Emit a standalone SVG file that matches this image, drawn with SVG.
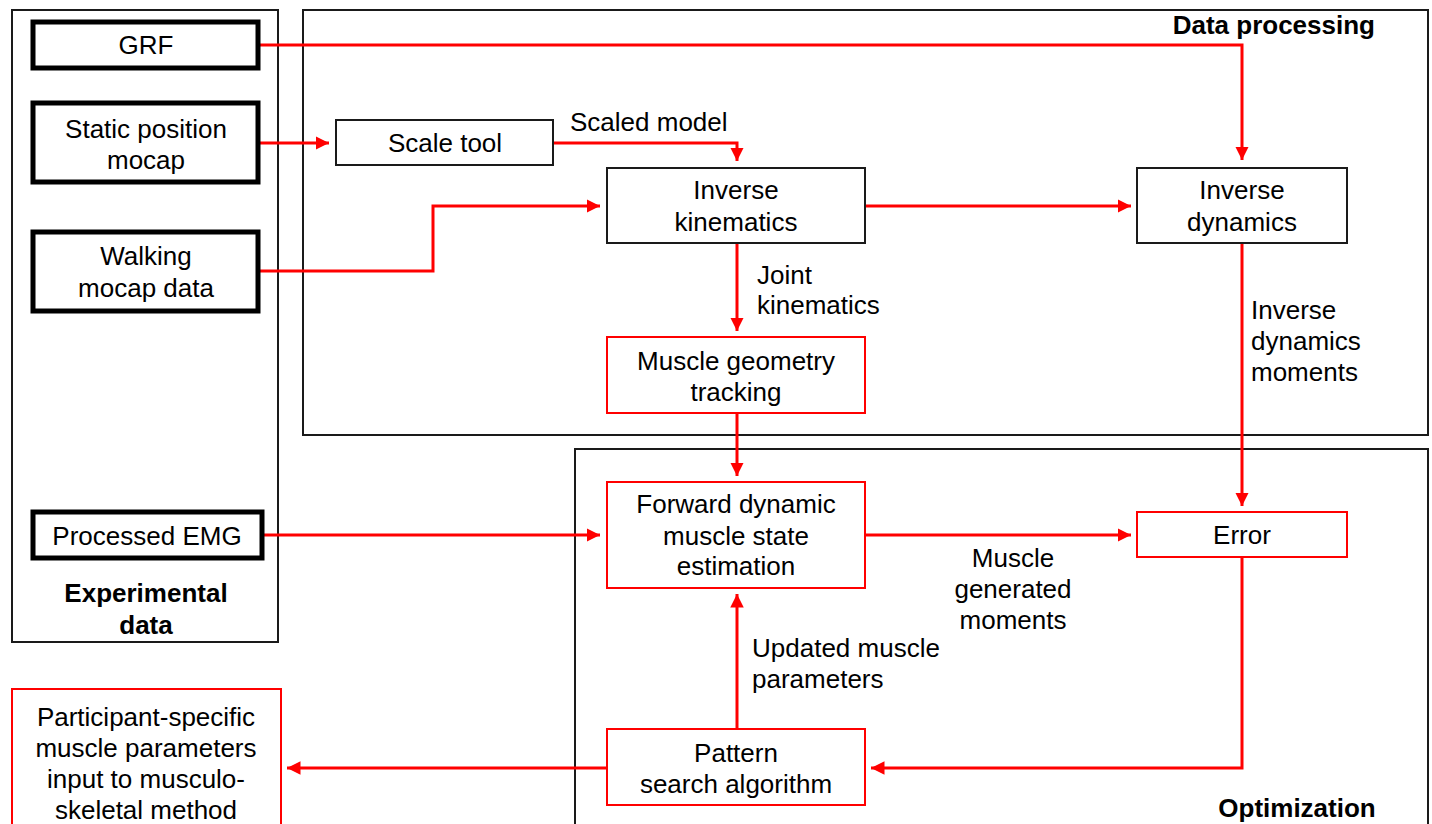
<svg xmlns="http://www.w3.org/2000/svg" width="1432" height="824" viewBox="0 0 1432 824">
<style>
text{font-family:"Liberation Sans",Arial,sans-serif;font-size:26px;fill:#000;text-anchor:middle}
.b{font-weight:bold}
.l{text-anchor:start}
.r{text-anchor:end}
.thin{fill:#fff;stroke:#1a1a1a;stroke-width:2}
.thick{fill:#fff;stroke:#000;stroke-width:5}
.red{fill:#fff;stroke:#f00;stroke-width:2}
.grp{fill:none;stroke:#1a1a1a;stroke-width:2}
.c{fill:none;stroke:#f00;stroke-width:3}
</style>
<defs>
<marker id="ah" viewBox="0 0 10 10" refX="10" refY="5" markerWidth="4.5" markerHeight="4.5" orient="auto" markerUnits="strokeWidth">
<path d="M0,0 L10,5 L0,10 Z" fill="#f00"/>
</marker>
</defs>
<rect width="1432" height="824" fill="#fff"/>
<g id="group-experimental">
<rect class="grp" x="12" y="10" width="266" height="632"/>
<text class="b" x="146" y="602">Experimental</text>
<text class="b" x="146" y="634">data</text>
</g>
<g id="group-processing">
<rect class="grp" x="303" y="10" width="1125" height="425"/>
<text class="b r" x="1375" y="34">Data processing</text>
</g>
<g id="group-optimization">
<rect class="grp" x="575" y="449" width="853" height="390"/>
<text class="b" x="1297" y="817">Optimization</text>
</g>
<g id="connectors">
<path class="c" d="M260,45 H1242 V160" marker-end="url(#ah)"/>
<path class="c" d="M260,143 H329" marker-end="url(#ah)"/>
<path class="c" d="M553,143 H737 V161" marker-end="url(#ah)"/>
<path class="c" d="M260,271 H433 V206 H600" marker-end="url(#ah)"/>
<path class="c" d="M865,206 H1131" marker-end="url(#ah)"/>
<path class="c" d="M737,243 V331" marker-end="url(#ah)"/>
<path class="c" d="M737,413 V476" marker-end="url(#ah)"/>
<path class="c" d="M262,535 H600" marker-end="url(#ah)"/>
<path class="c" d="M865,535 H1131" marker-end="url(#ah)"/>
<path class="c" d="M1242,243 V506" marker-end="url(#ah)"/>
<path class="c" d="M1242,557 V768 H871" marker-end="url(#ah)"/>
<path class="c" d="M737,729 V594" marker-end="url(#ah)"/>
<path class="c" d="M607,768 H287" marker-end="url(#ah)"/>
<text class="l" x="570" y="131">Scaled model</text>
<text class="l" x="757" y="284">Joint</text>
<text class="l" x="757" y="314">kinematics</text>
<text class="l" x="1251" y="319">Inverse</text>
<text class="l" x="1251" y="350">dynamics</text>
<text class="l" x="1251" y="381">moments</text>
<text x="1013" y="567">Muscle</text>
<text x="1013" y="598">generated</text>
<text x="1013" y="629">moments</text>
<text class="l" x="752" y="657">Updated muscle</text>
<text class="l" x="752" y="688">parameters</text>
</g>
<g id="node-grf">
<rect class="thick" x="33" y="22" width="225" height="46"/>
<text x="146" y="54">GRF</text>
</g>
<g id="node-static">
<rect class="thick" x="33" y="103" width="225" height="79"/>
<text x="146" y="138">Static position</text>
<text x="146" y="169">mocap</text>
</g>
<g id="node-walking">
<rect class="thick" x="33" y="232" width="225" height="79"/>
<text x="146" y="265">Walking</text>
<text x="146" y="297">mocap data</text>
</g>
<g id="node-emg">
<rect class="thick" x="33" y="512" width="229" height="46"/>
<text x="147" y="545">Processed EMG</text>
</g>
<g id="node-participant">
<rect class="red" x="12" y="689" width="269" height="150"/>
<text x="146" y="726">Participant-specific</text>
<text x="146" y="757">muscle parameters</text>
<text x="146" y="788">input to musculo-</text>
<text x="146" y="819">skeletal method</text>
</g>
<g id="node-scale">
<rect class="thin" x="336" y="120" width="217" height="45"/>
<text x="445" y="152">Scale tool</text>
</g>
<g id="node-ik">
<rect class="thin" x="607" y="168" width="258" height="75"/>
<text x="736" y="199">Inverse</text>
<text x="736" y="231">kinematics</text>
</g>
<g id="node-id">
<rect class="thin" x="1137" y="168" width="210" height="75"/>
<text x="1242" y="199">Inverse</text>
<text x="1242" y="231">dynamics</text>
</g>
<g id="node-mgt">
<rect class="red" x="607" y="337" width="258" height="76"/>
<text x="736" y="370">Muscle geometry</text>
<text x="736" y="401">tracking</text>
</g>
<g id="node-fd">
<rect class="red" x="607" y="482" width="258" height="106"/>
<text x="736" y="513">Forward dynamic</text>
<text x="736" y="545">muscle state</text>
<text x="736" y="575">estimation</text>
</g>
<g id="node-error">
<rect class="red" x="1137" y="512" width="210" height="45"/>
<text x="1242" y="544">Error</text>
</g>
<g id="node-pattern">
<rect class="red" x="607" y="729" width="258" height="76"/>
<text x="736" y="762">Pattern</text>
<text x="736" y="793">search algorithm</text>
</g>
</svg>
